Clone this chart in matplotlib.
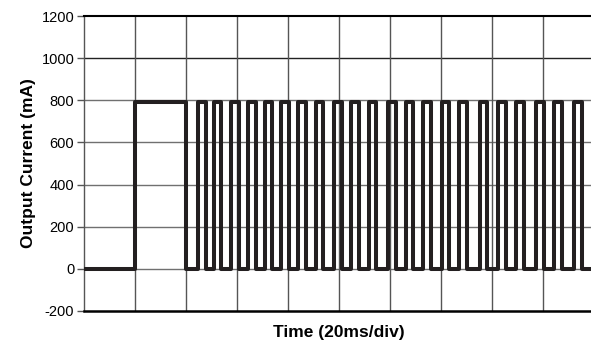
import matplotlib
matplotlib.use("Agg")
import matplotlib.pyplot as plt
import numpy as np

plt.rcParams['font.family'] = ['Liberation Sans', 'DejaVu Sans']

# Data (time in ms, 20 ms/div, 10 divisions)
high_level = 790          # mA
low_level = 0             # mA
long_pulse = (20.0, 40.0) # ms, start / end of the first long pulse
# centres of the short pulses (ms)
pulse_centers = [46.3, 52.5, 59.2, 65.9, 72.2, 78.8, 85.5, 92.5, 99.6, 106.3,
                 113.3, 120.8, 127.8, 134.5, 141.6, 148.6, 156.5, 163.9, 171.0,
                 178.8, 185.9, 193.7]
pulse_width = 2.8         # ms
t_end = 200.0
y_ticks = [-200, 0, 200, 400, 600, 800, 1000, 1200]

# build step waveform
t = [0.0, long_pulse[0], long_pulse[0], long_pulse[1], long_pulse[1]]
y = [low_level, low_level, high_level, high_level, low_level]
for c in pulse_centers:
    a, b = c - pulse_width / 2, c + pulse_width / 2
    t += [a, a, b, b]
    y += [low_level, high_level, high_level, low_level]
t.append(t_end)
y.append(low_level)

fig = plt.figure(figsize=(5.91, 3.5), dpi=100)
ax = fig.add_axes([84/591, 1-311/350, 510/591, 295/350])

ax.set_xlim(0, 200)
ax.set_ylim(-200, 1200)
ax.set_yticks(y_ticks)
ax.set_yticklabels([str(v) for v in y_ticks], fontsize=10.5)
ax.set_xticks(np.arange(0, 201, 20))
ax.tick_params(axis='x', length=0, labelbottom=False)
ax.tick_params(axis='y', length=5, width=1, color='#555555', pad=2)

for v in y_ticks[1:-1]:
    ax.axhline(v, color='#707070' if v != 1000 else '#222222', lw=1, zorder=1)
for v in np.arange(20, 200, 20):
    ax.axvline(v, color='#555555', lw=1, zorder=1)

ax.plot(t, y, color='#231f20', lw=2.9, solid_joinstyle='round',
        solid_capstyle='round', zorder=3)

ax.spines['left'].set_color('#555555')
ax.spines['left'].set_linewidth(1)
ax.spines['bottom'].set_linewidth(1.8)
ax.spines['top'].set_linewidth(1.5)
ax.spines['right'].set_visible(False)

ax.set_ylabel('Output Current (mA)', fontsize=12.5, fontweight='bold', labelpad=4)
ax.set_xlabel('Time (20ms/div)', fontsize=12.5, fontweight='bold', labelpad=10)

fig.savefig('out.png', dpi=100)
